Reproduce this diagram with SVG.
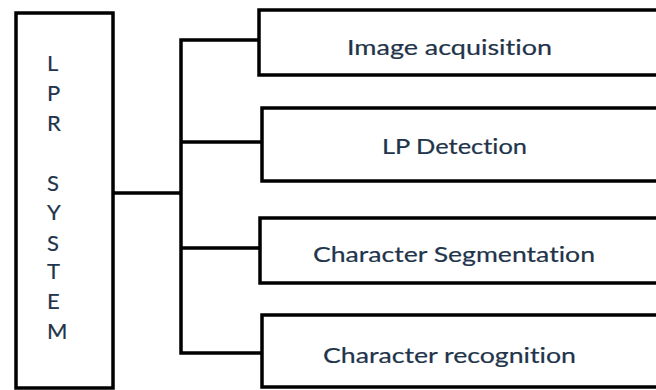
<svg xmlns="http://www.w3.org/2000/svg" width="656" height="390" viewBox="0 0 656 390">
<style>
.box{fill:#fff;stroke:#000;stroke-width:3.5}
.con{fill:none;stroke:#000;stroke-width:3.5;stroke-linecap:square}
.lbl{font-family:Lato,"Open Sans",sans-serif;font-size:21px;fill:#22344a;stroke:#22344a;stroke-width:0.2;font-variant-ligatures:none}
.v{font-family:Lato,"Open Sans",sans-serif;font-size:22px;fill:#22344a;stroke:#22344a;stroke-width:0.2}
</style>
<rect width="656" height="390" fill="#fff"/>
<g id="connectors">
<path class="con" d="M114 193 H181 M181 40 V353 M181 40 H261 M181 142 H263 M181 248 H263 M181 353 H262"/>
</g>
<g id="lpr-system">
<rect class="box" x="16" y="13" width="97" height="375"/>
<text class="v" x="47" y="71">L</text>
<text class="v" x="47" y="101">P</text>
<text class="v" x="47" y="131">R</text>
<text class="v" x="47" y="191">S</text>
<text class="v" x="47" y="220">Y</text>
<text class="v" x="47" y="251">S</text>
<text class="v" x="47" y="279">T</text>
<text class="v" x="47" y="309">E</text>
<text class="v" x="47" y="339">M</text>
</g>
<g id="image-acquisition">
<rect class="box" x="259" y="10" width="420" height="65"/>
<text class="lbl" x="347" y="55" textLength="205" lengthAdjust="spacingAndGlyphs">Image acquisition</text>
</g>
<g id="lp-detection">
<rect class="box" x="262" y="108" width="420" height="73"/>
<text class="lbl" x="382" y="154" textLength="145" lengthAdjust="spacingAndGlyphs">LP Detection</text>
</g>
<g id="character-segmentation">
<rect class="box" x="260" y="218" width="420" height="65"/>
<text class="lbl" x="313" y="262" textLength="282" lengthAdjust="spacingAndGlyphs">Character Segmentation</text>
</g>
<g id="character-recognition">
<rect class="box" x="262" y="315" width="420" height="72"/>
<text class="lbl" x="323" y="363" textLength="253" lengthAdjust="spacingAndGlyphs">Character recognition</text>
</g>
</svg>
